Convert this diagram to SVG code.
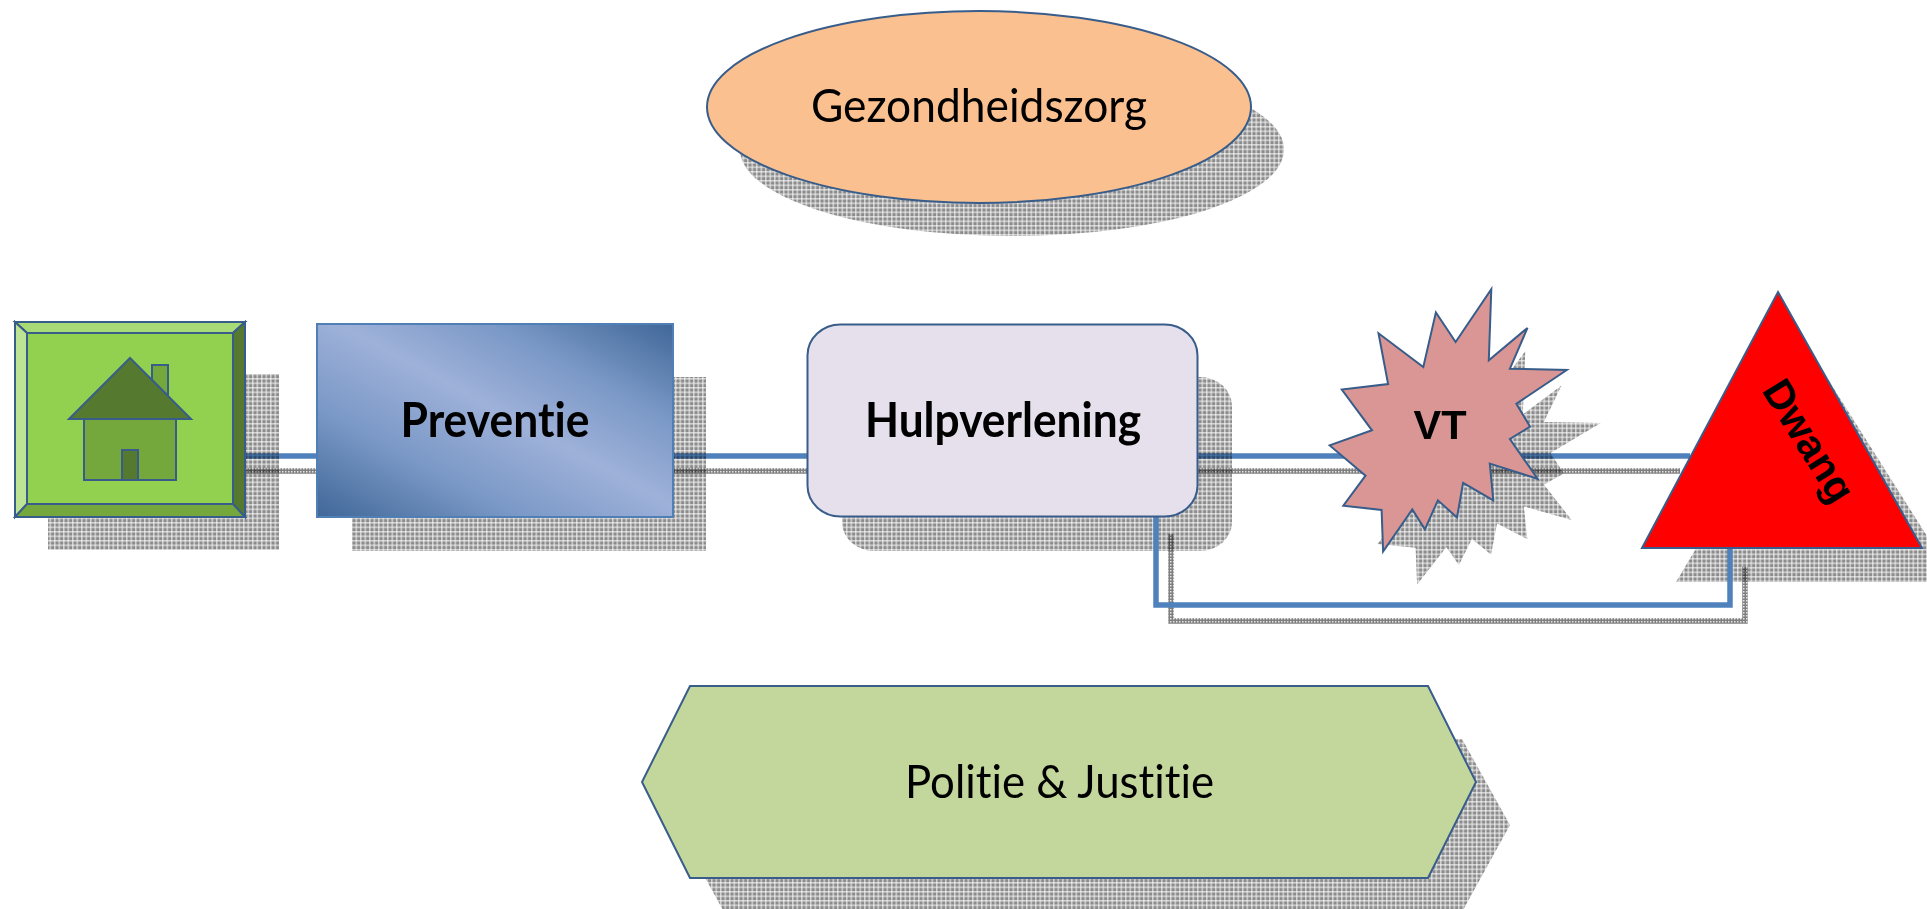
<svg xmlns="http://www.w3.org/2000/svg" width="1927" height="909" viewBox="0 0 1927 909">
<style>
.n{stroke:#385d8a;stroke-width:2}
.h{stroke:#385d8a;stroke-width:2;stroke-linejoin:miter}
.s{fill:url(#sh);stroke:none}
.c{fill:none;stroke:#4f81bd;stroke-width:5.500}
.cs{fill:none;stroke:url(#shd);stroke-width:5.500;mix-blend-mode:multiply}
.m{mix-blend-mode:multiply}
.t{font-family:"Lato","Carlito","Liberation Sans",sans-serif;font-size:47px;fill:#000;text-anchor:middle;font-variant-ligatures:none}
.b{font-weight:700}
.a{font-family:"Liberation Sans",Arial,sans-serif;font-weight:700;font-size:41.500px;fill:#000;text-anchor:middle}
</style>
<defs>
<pattern id="sh" width="4.500" height="4.500" patternUnits="userSpaceOnUse">
<rect width="4.500" height="4.500" fill="#000" fill-opacity="0.45"/>
<rect width="4.500" height="1.500" fill="#fff" fill-opacity="0.6"/>
<rect width="1.500" height="4.500" fill="#fff" fill-opacity="0.6"/>
</pattern>
<pattern id="shd" width="3" height="3" patternUnits="userSpaceOnUse">
<rect width="3" height="3" fill="#000" fill-opacity="0.5"/>
<rect width="1.500" height="1.500" fill="#fff" fill-opacity="0.8"/>
</pattern>
<linearGradient id="gp" x1="0" y1="1" x2="1" y2="0">
<stop offset="0" stop-color="#3f6798"/>
<stop offset="0.28" stop-color="#7a98c6"/>
<stop offset="0.53" stop-color="#9eb1d9"/>
<stop offset="0.75" stop-color="#7a98c6"/>
<stop offset="1" stop-color="#3f6798"/>
</linearGradient>
</defs>

<g id="shadows">
<ellipse class="s" cx="1012" cy="149.500" rx="272" ry="86.500"/>
<rect class="s" x="48" y="374" width="231" height="176"/>
<rect class="s" x="352" y="377" width="354" height="174"/>
<rect class="s" x="842" y="377" width="390" height="174" rx="32" ry="29"/>
<polygon class="s" points="1525.3,351.2 1522.8,414.4 1561.5,385.6 1543.9,422 1600.8,423.1 1550.4,453.1 1564,473.5 1543.9,484.5 1571.6,519.9 1523.8,506.4 1527.3,539.1 1497.1,523.5 1491,554.4 1471.9,539.1 1458.9,564.9 1446.3,547.2 1417.1,584.6 1415.6,547.7 1377.3,543.9 1399.5,517.2 1363.7,490.2 1406,476.8 1375.8,440.5 1422.1,435.6 1412.5,390.5 1457.3,420.4 1469.9,371.8 1489.6,398.2"/>
<polygon class="s" points="1812,354 1956,582 1676,582"/>
<polygon class="s" points="724,739 1462,739 1510,825 1462,912 724,912 676,825"/>
</g>

<g id="connectors">
<path class="c m" d="M245 456H1690"/>
<path class="cs" d="M245 471H1680"/>
<path class="cs" d="M1171 534V621H1745V567"/>
<path class="c" d="M1156 516V605H1730V548"/>
</g>

<g id="gezondheidszorg">
<ellipse class="n" cx="979" cy="107" rx="272" ry="96" fill="#fac090"/>
<text class="t" x="979" y="122" textLength="336" lengthAdjust="spacingAndGlyphs">Gezondheidszorg</text>
</g>

<g id="home">
<rect x="15" y="322" width="230" height="195" fill="#92d050"/>
<polygon class="h" points="15,322 245,322 233,333 27,333" fill="#a8da75"/>
<polygon class="h" points="15,322 27,333 27,504 15,517" fill="#bee395"/>
<polygon class="h" points="245,322 245,517 233,504 233,333" fill="#557a2f"/>
<polygon class="h" points="15,517 27,504 233,504 245,517" fill="#74a83c"/>
<rect class="h" x="27" y="333" width="206" height="171" fill="#92d050"/>
<polygon class="h" points="152,380 152,365 168,365 168,396" fill="#74a83c"/>
<rect class="h" x="84" y="419" width="92" height="61" fill="#74a83c"/>
<polygon class="h" points="130,358 191,419 69,419" fill="#557a2f"/>
<rect class="h" x="122" y="450" width="16" height="30" fill="#557a2f"/>
</g>

<g id="preventie">
<rect x="317" y="324" width="356" height="193" fill="url(#gp)" stroke="#4f7fb5" stroke-width="2"/>
<text class="t b" x="495" y="437" textLength="189" lengthAdjust="spacingAndGlyphs">Preventie</text>
</g>

<g id="hulpverlening">
<rect class="n" x="807.500" y="324.500" width="390" height="192" rx="33" ry="31" fill="#e6e0ec"/>
<text class="t b" x="1003" y="437" textLength="276" lengthAdjust="spacingAndGlyphs">Hulpverlening</text>
</g>

<g id="vt">
<polygon class="n" points="1491.3,289.2 1488.8,360.2 1527.5,327.9 1509.9,368.7 1566.8,370 1516.4,403.7 1530,426.6 1509.9,439 1537.6,478.8 1489.8,463.6 1493.3,500.3 1463.1,482.8 1457,517.5 1437.9,500.3 1424.9,529.3 1412.3,509.4 1383.1,551.5 1381.6,510 1343.3,505.7 1365.5,475.7 1329.7,445.4 1372,430.3 1341.8,389.5 1388.1,384.1 1378.5,333.3 1423.3,367 1435.9,312.4 1455.6,342" fill="#d99694"/>
<text class="a" x="1440" y="439">VT</text>
</g>

<g id="dwang">
<polygon class="n" points="1778,292 1922,548 1642,548" fill="#ff0000"/>
<text class="a" transform="translate(1797.2,448.3) rotate(58)" x="0" y="0">Dwang</text>
</g>

<g id="politie-justitie">
<polygon class="n" points="690,686 1428,686 1476,782 1428,878 690,878 642,782" fill="#c3d69b"/>
<text class="t" x="1059.500" y="798" textLength="309" lengthAdjust="spacingAndGlyphs">Politie &amp; Justitie</text>
</g>
</svg>
